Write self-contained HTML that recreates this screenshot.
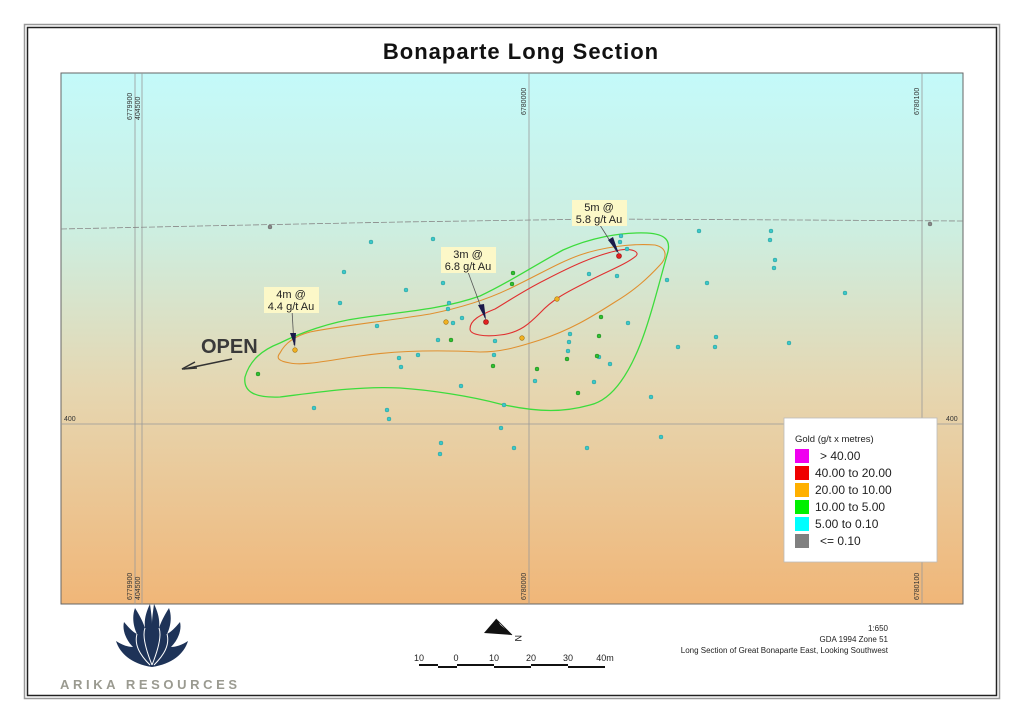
<!DOCTYPE html>
<html><head><meta charset="utf-8"><style>
html,body{margin:0;padding:0;background:#fff;}
svg{display:block;font-family:"Liberation Sans",Arial,sans-serif;}
</style></head><body>
<svg width="1024" height="724" viewBox="0 0 1024 724" xmlns="http://www.w3.org/2000/svg">
<defs>
<linearGradient id="bg" x1="0" y1="0" x2="0" y2="1">
<stop offset="0" stop-color="#c4fafa"/>
<stop offset="0.3" stop-color="#cdeee0"/>
<stop offset="0.6" stop-color="#e6d6b0"/>
<stop offset="1" stop-color="#f0b678"/>
</linearGradient>
</defs>
<rect x="0" y="0" width="1024" height="724" fill="#fff"/>
<rect x="24.5" y="24.5" width="975" height="674" fill="none" stroke="#999" stroke-width="1.5"/>
<rect x="27.5" y="27.5" width="969" height="668" fill="none" stroke="#222" stroke-width="1.5"/>
<text x="521" y="59" text-anchor="middle" font-size="22" font-weight="bold" fill="#111" letter-spacing="1">Bonaparte  Long Section</text>
<rect x="61" y="73" width="902" height="531" fill="url(#bg)" stroke="#666" stroke-width="1"/>
<g stroke="#999" stroke-width="0.8" fill="none">
<line x1="135" y1="73" x2="135" y2="604"/><line x1="142" y1="73" x2="142" y2="604"/>
<line x1="529" y1="73" x2="529" y2="604"/><line x1="922" y1="73" x2="922" y2="604"/>
<line x1="61" y1="424" x2="963" y2="424"/>
</g>
<polyline points="61,229 200,226 400,222 600,219 800,220 963,221" fill="none" stroke="#888" stroke-width="0.8" stroke-dasharray="6,2"/>
<g font-size="7" fill="#333">
<text transform="translate(132,120) rotate(-90)">6779900</text>
<text transform="translate(140,120) rotate(-90)">404500</text>
<text transform="translate(526,115) rotate(-90)">6780000</text>
<text transform="translate(919,115) rotate(-90)">6780100</text>
<text transform="translate(132,600) rotate(-90)">6779900</text>
<text transform="translate(140,600) rotate(-90)">404500</text>
<text transform="translate(526,600) rotate(-90)">6780000</text>
<text transform="translate(919,600) rotate(-90)">6780100</text>
<text x="64" y="421">400</text><text x="946" y="421">400</text>
</g>
<path d="M245,377 C250,360 262,350 280,343 C300,333 330,322 360,318 C400,312 440,310 480,296 C510,282 530,268 563,250 C590,238 620,232 647,233 C665,234 672,240 667,255 C660,280 650,320 640,345 C628,375 612,400 590,405 C565,412 540,413 500,404 C470,396 430,390 400,388 C360,386 320,392 280,397 C255,398 243,392 245,377 Z" fill="none" stroke="#3cdc3c" stroke-width="1.3"/>
<path d="M280,353 C285,343 295,336 310,332 C340,326 380,322 430,314 C470,306 495,296 513,287 C540,274 560,262 580,255 C600,248 630,243 655,245 C668,248 667,258 660,265 C648,278 635,290 615,302 C590,318 570,330 540,340 C515,348 500,352 480,352 C440,350 400,350 360,356 C330,360 305,366 290,363 C278,361 276,358 280,353 Z" fill="none" stroke="#e09030" stroke-width="1.1"/>
<path d="M470,329 C470,320 480,315 495,309 C510,300 525,290 545,280 C570,267 595,255 620,250 C632,248 640,252 636,256 C625,265 605,272 585,283 C565,293 552,300 540,313 C530,323 520,333 500,335 C485,337 470,335 470,329 Z" fill="none" stroke="#e03030" stroke-width="1.1"/>
<g fill="#3cc8c8" stroke="#2a9a9a" stroke-width="0.5">
<circle cx="371" cy="242" r="2"/><circle cx="433" cy="239" r="2"/><circle cx="344" cy="272" r="2"/><circle cx="340" cy="303" r="2"/>
<circle cx="406" cy="290" r="2"/><circle cx="443" cy="283" r="2"/><circle cx="449" cy="303" r="2"/><circle cx="448" cy="309" r="2"/>
<circle cx="377" cy="326" r="2"/><circle cx="453" cy="323" r="2"/><circle cx="438" cy="340" r="2"/><circle cx="418" cy="355" r="2"/>
<circle cx="399" cy="358" r="2"/><circle cx="401" cy="367" r="2"/><circle cx="461" cy="386" r="2"/><circle cx="314" cy="408" r="2"/>
<circle cx="387" cy="410" r="2"/><circle cx="389" cy="419" r="2"/><circle cx="494" cy="355" r="2"/><circle cx="495" cy="341" r="2"/>
<circle cx="462" cy="318" r="2"/><circle cx="504" cy="405" r="2"/><circle cx="535" cy="381" r="2"/><circle cx="570" cy="334" r="2"/>
<circle cx="569" cy="342" r="2"/><circle cx="568" cy="351" r="2"/><circle cx="599" cy="357" r="2"/><circle cx="610" cy="364" r="2"/>
<circle cx="594" cy="382" r="2"/><circle cx="651" cy="397" r="2"/><circle cx="628" cy="323" r="2"/><circle cx="667" cy="280" r="2"/>
<circle cx="627" cy="249" r="2"/><circle cx="621" cy="236" r="2"/><circle cx="620" cy="242" r="2"/><circle cx="589" cy="274" r="2"/><circle cx="617" cy="276" r="2"/>
<circle cx="699" cy="231" r="2"/><circle cx="771" cy="231" r="2"/><circle cx="770" cy="240" r="2"/><circle cx="775" cy="260" r="2"/><circle cx="774" cy="268" r="2"/>
<circle cx="707" cy="283" r="2"/><circle cx="845" cy="293" r="2"/><circle cx="716" cy="337" r="2"/><circle cx="678" cy="347" r="2"/>
<circle cx="715" cy="347" r="2"/><circle cx="789" cy="343" r="2"/><circle cx="441" cy="443" r="2"/><circle cx="440" cy="454" r="2"/>
<circle cx="501" cy="428" r="2"/><circle cx="514" cy="448" r="2"/><circle cx="587" cy="448" r="2"/><circle cx="661" cy="437" r="2"/>
</g>
<g fill="#888" stroke="#666" stroke-width="0.5"><circle cx="270" cy="227" r="2"/><circle cx="930" cy="224" r="2"/></g>
<g fill="#30c030" stroke="#208020" stroke-width="0.5">
<circle cx="258" cy="374" r="2"/><circle cx="513" cy="273" r="2"/><circle cx="512" cy="284" r="2"/><circle cx="451" cy="340" r="2"/>
<circle cx="493" cy="366" r="2"/><circle cx="537" cy="369" r="2"/><circle cx="567" cy="359" r="2"/><circle cx="601" cy="317" r="2"/>
<circle cx="599" cy="336" r="2"/><circle cx="597" cy="356" r="2"/><circle cx="578" cy="393" r="2"/>
</g>
<g fill="#f0b020" stroke="#a07010" stroke-width="0.6">
<circle cx="446" cy="322" r="2.3"/><circle cx="522" cy="338" r="2.3"/><circle cx="557" cy="299" r="2.3"/><circle cx="295" cy="350" r="2.3"/>
</g>
<g fill="#e02020" stroke="#901010" stroke-width="0.6"><circle cx="486" cy="322" r="2.5"/><circle cx="619" cy="256" r="2.5"/></g>
<g stroke="#555" stroke-width="0.8">
<line x1="292" y1="310" x2="294" y2="345"/><line x1="468" y1="272" x2="485" y2="318"/><line x1="598" y1="222" x2="617" y2="252"/>
</g>
<g fill="#1a1a4a">
<polygon points="290,333 296,333 295,347"/><polygon points="478,305 484,304 486,320"/><polygon points="608,240 613,237 619,254"/>
</g>
<g font-size="11" fill="#222" text-anchor="middle">
<rect x="264" y="287" width="55" height="26" fill="#fcf8c8"/>
<text x="291" y="298">4m @</text><text x="291" y="310">4.4 g/t Au</text>
<rect x="441" y="247" width="55" height="26" fill="#fcf8c8"/>
<text x="468" y="258">3m @</text><text x="468" y="270">6.8 g/t Au</text>
<rect x="572" y="200" width="55" height="26" fill="#fcf8c8"/>
<text x="599" y="211">5m @</text><text x="599" y="223">5.8 g/t Au</text>
</g>
<text x="201" y="353" font-size="20" font-weight="bold" fill="#3a3a3a">OPEN</text>
<line x1="232" y1="359" x2="184" y2="369" stroke="#333" stroke-width="1.5"/>
<polyline points="195,362 182,369 197,368" fill="none" stroke="#333" stroke-width="1.5"/>
<rect x="784" y="418" width="153" height="144" fill="#fff" stroke="#bbb" stroke-width="0.8"/>
<g font-size="12" fill="#222">
<text x="795" y="442" font-size="9.5">Gold (g/t x metres)</text>
<rect x="795" y="449" width="14" height="14" fill="#f000f0"/><text x="820" y="460">&gt; 40.00</text>
<rect x="795" y="466" width="14" height="14" fill="#f00000"/><text x="815" y="477">40.00 to 20.00</text>
<rect x="795" y="483" width="14" height="14" fill="#ffb000"/><text x="815" y="494">20.00 to 10.00</text>
<rect x="795" y="500" width="14" height="14" fill="#00f000"/><text x="815" y="511">10.00 to 5.00</text>
<rect x="795" y="517" width="14" height="14" fill="#00ffff"/><text x="815" y="528">5.00 to 0.10</text>
<rect x="795" y="534" width="14" height="14" fill="#808080"/><text x="820" y="545">&lt;= 0.10</text>
</g>
<!-- logo: lotus with pointed petals -->
<g fill="#1e3358">
<path d="M152,667 C132,664 120,654 116,641 C122,645 128,647 133,647 C126,640 122,630 124,622 C129,628 133,632 137,634 C133,626 132,616 135,608 C140,616 143,622 145,628 C144,620 146,612 150,604 C151,612 152,618 152,624 C152,618 153,612 154,604 C158,612 160,620 159,628 C161,622 164,616 169,608 C172,616 171,626 167,634 C171,632 175,628 180,622 C182,630 178,640 171,647 C176,647 182,645 188,641 C184,654 172,664 152,667 Z"/>
</g>
<g stroke="#fff" stroke-width="1" fill="none">
<path d="M152,665 C146,650 142,636 145,628"/><path d="M152,665 C158,650 162,636 159,628"/>
<path d="M150,665 C140,655 134,645 137,634"/><path d="M154,665 C164,655 170,645 167,634"/>
</g>
<text x="60" y="689" font-size="13" font-weight="bold" fill="#9a9a90" letter-spacing="3.6">ARIKA RESOURCES</text>
<polygon points="496,619 512,635 484,633" fill="#111"/>
<polygon points="496,619 512,635 500,625" fill="#fff" stroke="#111" stroke-width="0.8"/>
<text x="515" y="641" font-size="9" fill="#111" transform="rotate(90 518 638)">N</text>
<g font-size="9" fill="#222" text-anchor="middle">
<text x="419" y="661">10</text><text x="456" y="661">0</text><text x="494" y="661">10</text><text x="531" y="661">20</text><text x="568" y="661">30</text><text x="605" y="661">40m</text>
</g>
<g fill="#111">
<rect x="419" y="664" width="19" height="2"/><rect x="438" y="666" width="19" height="2"/>
<rect x="457" y="664" width="37" height="2"/><rect x="494" y="666" width="37" height="2"/>
<rect x="531" y="664" width="37" height="2"/><rect x="568" y="666" width="37" height="2"/>
</g>
<g font-size="8" fill="#222" text-anchor="end">
<text x="888" y="631">1:650</text>
<text x="888" y="642">GDA 1994 Zone 51</text>
<text x="888" y="653">Long Section of Great Bonaparte East, Looking Southwest</text>
</g>
</svg>
</body></html>
